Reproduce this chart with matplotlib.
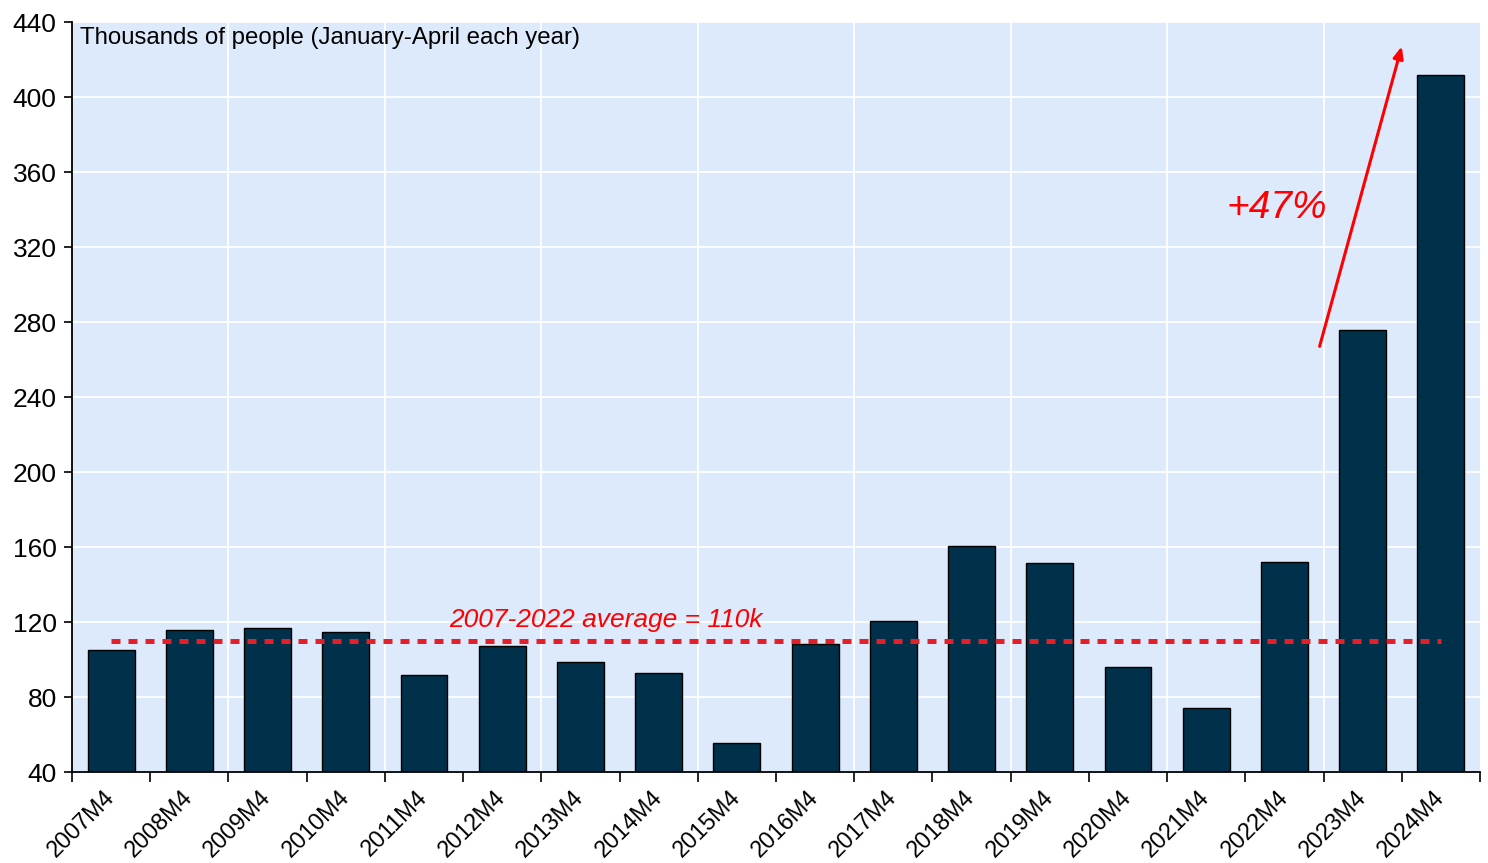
import numpy as np
import matplotlib.pyplot as plt
from matplotlib.transforms import ScaledTranslation

plt.rcParams['font.family'] = ['Liberation Sans', 'DejaVu Sans']

years = ["2007M4", "2008M4", "2009M4", "2010M4", "2011M4", "2012M4", "2013M4",
         "2014M4", "2015M4", "2016M4", "2017M4", "2018M4", "2019M4", "2020M4",
         "2021M4", "2022M4", "2023M4", "2024M4"]
values = [105, 115.5, 117, 114.5, 92, 107, 98.5, 93, 55.5, 108.5, 120.5, 160.5,
          151.5, 96, 74, 152, 276, 411.5]
average = 110
arrow_start = (15.45, 267)
arrow_end = (16.5, 427)

x = np.arange(len(years))

fig = plt.figure(figsize=(14.88, 8.63), dpi=100)
ax = fig.add_axes([0.0484, 0.1054, 0.9462, 0.8691])
ax.set_facecolor("#DDEAFB")

ax.bar(x, values, width=0.6, color="#00304A", edgecolor="black", linewidth=1.0, zorder=3)

# average line
ax.plot([x[0], x[-1]], [average, average], color="#E3202A", lw=3.6,
        dashes=(1.8, 1.6), dash_capstyle="butt", zorder=4)
ax.text(6.33, 121, "2007-2022 average = 110k", color="#FF0000", fontsize=19,
        style="italic", ha="center", va="center", zorder=5)

# growth arrow
ax.annotate("", xy=arrow_end, xytext=arrow_start,
            arrowprops=dict(arrowstyle="-|>,head_length=0.7,head_width=0.3",
                            color="#FF0000", lw=2.2, shrinkA=0, shrinkB=0), zorder=5)
ax.text(14.9, 341, "+47%", color="#FF0000", fontsize=28, style="italic",
        ha="center", va="center", zorder=5)

ax.text(0.0057, 0.993, "Thousands of people (January-April each year)",
        transform=ax.transAxes, fontsize=17.3, ha="left", va="top", zorder=5)

ax.set_xlim(-0.5, 17.5)
ax.set_ylim(40, 440)
ax.set_yticks(np.arange(40, 441, 40))
ax.tick_params(axis="y", labelsize=19, length=6, width=1.2, pad=5)

# boundary ticks, labels at bar centres
ax.set_xticks(np.arange(-0.5, 18, 1))
ax.set_xticklabels([])
ax.tick_params(axis="x", which="major", length=7, width=1.2)
ax.set_xticks(x, minor=True)
ax.set_xticklabels(years, minor=True, rotation=45, ha="right",
                   rotation_mode="anchor", fontsize=16.8)
ax.tick_params(axis="x", which="minor", length=0, pad=10)
shift = ScaledTranslation(-6 / 72, 0, fig.dpi_scale_trans)
for lab in ax.get_xticklabels(minor=True):
    lab.set_transform(lab.get_transform() + shift)

ax.grid(axis="y", color="white", lw=1.3, zorder=1)
for b in np.arange(1.5, 17, 2):
    ax.axvline(b, color="white", lw=1.3, zorder=1)

for s in ["top", "right"]:
    ax.spines[s].set_visible(False)
for s in ["left", "bottom"]:
    ax.spines[s].set_linewidth(1.3)
    ax.spines[s].set_zorder(6)

fig.savefig("out.png", dpi=100)
